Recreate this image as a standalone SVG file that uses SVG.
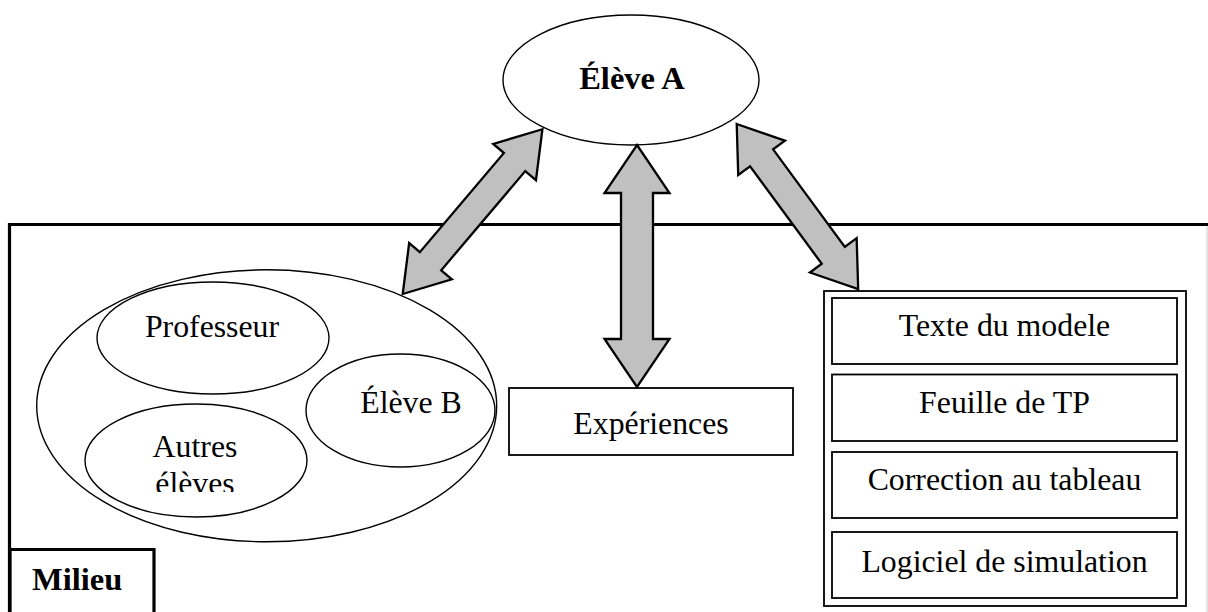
<svg xmlns="http://www.w3.org/2000/svg" width="1208" height="612" viewBox="0 0 1208 612">
  <style>
    .lbl { font-family: "Liberation Serif", "Times New Roman", serif; font-size: 31.8px; fill: #000; text-anchor: middle; }
    .bold { font-weight: bold; font-size: 32.5px; }
    .node { fill: #fff; stroke: #000; stroke-width: 1.4; }
    .box { fill: #fff; stroke: #000; stroke-width: 1.8; }
    .arrow { fill: #c0c0c0; stroke: #000; stroke-width: 2.3; stroke-linejoin: miter; }
    .frame { fill: none; stroke: #000; stroke-width: 3.2; }
  </style>
  <defs>
    <clipPath id="clip-autres">
      <rect x="80" y="420" width="240" height="72"/>
    </clipPath>
  </defs>
  <rect width="1208" height="612" fill="#fff"/>

  <!-- Milieu frame -->
  <g id="milieu">
    <path class="frame" d="M9.5,612 V224.5 H1208"/>
    <line x1="1207" y1="226" x2="1207" y2="612" stroke="#c8c8c8" stroke-width="1"/>
    <path class="frame" d="M10,612 V549.5 H154 V612"/>
    <text class="lbl bold" x="32" y="590" style="text-anchor:start">Milieu</text>
  </g>

  <!-- Élève A -->
  <g id="eleve-a">
    <ellipse class="node" cx="631" cy="80" rx="128" ry="65"/>
    <text class="lbl bold" x="632" y="89">Élève A</text>
  </g>

  <!-- Social group -->
  <g id="groupe">
    <ellipse class="node" cx="266.7" cy="405.8" rx="230" ry="136"/>
  </g>
  <g id="professeur">
    <ellipse class="node" cx="213" cy="338" rx="116" ry="56"/>
    <text class="lbl" x="212" y="337">Professeur</text>
  </g>
  <g id="eleve-b">
    <ellipse class="node" cx="400.5" cy="410.5" rx="94.5" ry="56.5"/>
    <text class="lbl" x="411" y="413">Élève B</text>
  </g>
  <g id="autres-eleves">
    <ellipse class="node" cx="196" cy="460.5" rx="111" ry="56.5"/>
    <g clip-path="url(#clip-autres)">
      <text class="lbl" x="195" y="457">Autres</text>
      <text class="lbl" x="195" y="494">élèves</text>
    </g>
  </g>

  <!-- Expériences -->
  <g id="experiences">
    <rect class="box" x="509" y="388" width="284" height="67" stroke-width="1.5"/>
    <text class="lbl" x="651" y="434">Expériences</text>
  </g>

  <!-- Resources -->
  <g id="ressources">
    <rect class="box" x="824" y="291" width="362" height="315" stroke-width="1.5"/>
    <rect class="box" x="832" y="298" width="345" height="66"/>
    <text class="lbl" x="1004.5" y="336">Texte du modele</text>
    <rect class="box" x="832" y="374.5" width="345" height="66.5"/>
    <text class="lbl" x="1004.5" y="413">Feuille de TP</text>
    <rect class="box" x="832" y="452" width="345" height="66"/>
    <text class="lbl" x="1004.5" y="490">Correction au tableau</text>
    <rect class="box" x="832" y="532" width="345" height="66"/>
    <text class="lbl" x="1004.5" y="572">Logiciel de simulation</text>
  </g>

  <!-- Connectors: double-headed block arrows -->
  <g id="connectors">
    <polygon class="arrow" transform="translate(402.7,294) rotate(-49.7)"
      points="0,0 43,-28 43,-14 173,-14 173,-28 216,0 173,28 173,14 43,14 43,28"/>
    <polygon class="arrow"
      points="637,145 669.5,193 653,193 653,339 669.5,339 637,387 604.5,339 621,339 621,193 604.5,193"/>
    <polygon class="arrow" transform="translate(736.7,124) rotate(53.66)"
      points="0,0 42,-29 42,-14.3 163,-14.3 163,-29 205,0 163,29 163,14.3 42,14.3 42,29"/>
  </g>
</svg>
